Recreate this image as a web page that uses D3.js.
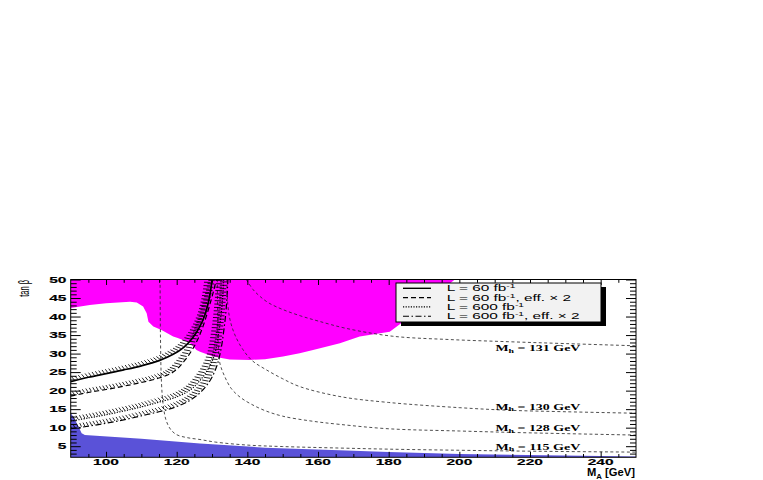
<!DOCTYPE html>
<html><head><meta charset="utf-8">
<script src="https://cdn.jsdelivr.net/npm/d3@7/dist/d3.min.js"></script>
<style>body{margin:0;background:#fff;} svg{display:block;}</style>
</head><body>
<svg id="c" width="763" height="480"></svg>
<script>
// ---------- data ----------
const xTickValues = [100, 120, 140, 160, 180, 200, 220, 240];
const yTickValues = [5, 10, 15, 20, 25, 30, 35, 40, 45, 50];
const xTitle = {main: "M", sub: "A", rest: " [GeV]"};
const yTitle = "tan β";

// excluded regions (M_A, tanβ)
const magentaRegion = [[90,50],[90,42.3],[95.4,43.1],[100,43.6],[106.8,44],[108.7,43.8],[110.5,42.7],[111.5,40.9],[112,38.6],[113.4,37.3],[115.7,36.4],[119,34.6],[120.3,34.2],[123.7,32.9],[125.6,31],[126.6,30.5],[130.3,29.2],[135,28.4],[140.7,28.3],[145,28.5],[150.1,29.2],[154.8,30.1],[158.6,31],[166.2,32.8],[171.8,34.6],[180.3,35.9],[184.1,38.6],[188,42],[195,47],[198.7,50]];
const blueRegion = [[90,2],[90,13.9],[90.7,13],[92.2,10.3],[93.1,8.5],[94,8.0],[110,7.0],[126.6,5.7],[145,4.6],[166,3.9],[180,3.4],[200,2.9],[240,2.35],[250,2.2],[250,2]];

// discovery contours
const lumi60 = [[90,22.4],[95,23.6],[100,24.6],[105,25.6],[110,26.7],[115,28.1],[119,29.8],[122,31.7],[124.5,34.2],[126.5,37.2],[128,40.5],[129,44],[129.6,47],[130,50]];
const lumi60eff = [[90,18.5],[95,19.5],[100,20.3],[105,21.2],[110,22.2],[115,23.4],[119,25],[122,27.8],[124.5,31.2],[126.5,35],[128.2,39.5],[129.6,44],[130.6,47.5],[131.2,50]];
const lumi600 = [[90,11.8],[95,12.6],[100,13.5],[105,14.5],[110,15.6],[115,16.9],[120,18.3],[124,20.3],[127,23.2],[129.3,26.5],[130.8,30],[131.8,35],[132.5,40],[133,45],[133.3,50]];
const lumi600eff = [[90,9.7],[95,10.4],[100,11.2],[105,12.1],[110,13.2],[115,14.3],[120,15.7],[124,17.5],[127,19.8],[129.5,22.8],[131.3,26.5],[132.5,31],[133.3,36],[134,42],[134.5,50]];

// M_h iso-lines
const mh131 = [[139.7,50],[141.6,47.3],[143.5,45.5],[146,43.7],[150,41.9],[155,40.2],[160,38.8],[168,36.8],[181,34.7],[197,33.8],[214,33.2],[230,32.7],[250,32.1]];
const mh130 = [[134.2,50],[134.4,44],[135.1,39.1],[136.5,35],[138.8,31],[141.5,28],[145.4,25.6],[150,23.2],[154.8,21.1],[166.2,18.4],[180,16.8],[200,15.4],[214,14.7],[230,14.3],[250,13.9]];
const mh128 = [[131.5,50],[131.6,40],[131.8,32],[132.2,27.5],[133.5,24],[135.5,20.5],[138,18.2],[141,16.4],[145,14.6],[150,13.1],[158,11.8],[166,10.9],[180,9.7],[200,9.1],[220,8.6],[250,8.0]];
const mh115 = [[115.3,50],[115.4,35],[115.7,22],[116.2,16],[117,12],[118.3,9.5],[120,8.1],[123,7.3],[126.6,6.8],[131,6.1],[140,5.3],[150,4.9],[166,4.5],[180,4.2],[200,3.9],[220,3.65],[250,3.4]];
const mhLabels = ["131", "130", "128", "115"];
const mhLabelPos = [[210.2,30.7],[210.2,14.9],[210.2,9.1],[210.2,4.1]];

const legendLabels = [
  {pre:"L = 60 fb", sup:"-1", post:""},
  {pre:"L = 60 fb", sup:"-1", post:", eff. × 2"},
  {pre:"L = 600 fb", sup:"-1", post:""},
  {pre:"L = 600 fb", sup:"-1", post:", eff. × 2"}
];

// ---------- layout ----------
const SX = 1.85; // horizontal stretch of the original picture
const svg = d3.select("#c");
const x = d3.scaleLinear().domain([90, 250]).range([70.7, 636]);
const y = d3.scaleLinear().domain([2, 50]).range([457.3, 279.5]);
const [X0, X1] = x.range(), [Y0, Y1] = [y.range()[1], y.range()[0]];

svg.append("rect").attr("width", 763).attr("height", 480).attr("fill", "#fff");
svg.append("clipPath").attr("id", "clip").append("rect")
  .attr("x", X0).attr("y", Y0).attr("width", X1 - X0).attr("height", Y1 - Y0);
const plot = svg.append("g").attr("clip-path", "url(#clip)");

const area = d3.line().x(d => x(d[0])).y(d => y(d[1]));
const smooth = d3.line().x(d => x(d[0])).y(d => y(d[1])).curve(d3.curveCatmullRom.alpha(0.5));

plot.append("path").attr("d", area(magentaRegion) + "Z").attr("fill", "#ff00ff");
plot.append("path").attr("d", area(blueRegion) + "Z").attr("fill", "#5a52d8");

// M_h dashed lines
[mh131, mh130, mh128, mh115].forEach(d => {
  plot.append("path").attr("d", smooth(d)).attr("fill", "none")
    .attr("stroke", "#222").attr("stroke-width", 0.8).attr("stroke-dasharray", "3,2.5");
});

// hatched discovery contours
const styles = [
  {data: lumi60, dash: null, w: 1.7},
  {data: lumi60eff, dash: "5,3", w: 1.2},
  {data: lumi600, dash: "1.2,1.4", w: 1.2},
  {data: lumi600eff, dash: "6,2.5,1.5,2.5", w: 1.2}
];
styles.forEach(s => {
  const p = plot.append("path").attr("d", smooth(s.data)).attr("fill", "none")
    .attr("stroke", "#000").attr("stroke-width", s.w);
  if (s.dash) p.attr("stroke-dasharray", s.dash);
  const node = p.node(), L = node.getTotalLength();
  const hg = plot.append("g").attr("stroke", "#000").attr("stroke-width", 0.85);
  for (let t = 1; t < L - 0.5; t += 3.4) {
    const a = node.getPointAtLength(Math.max(0, t - 0.6)), b = node.getPointAtLength(Math.min(L, t + 0.6));
    const c = node.getPointAtLength(t);
    let dx = (b.x - a.x) / SX, dy = b.y - a.y; const n = Math.hypot(dx, dy) || 1; dx /= n; dy /= n;
    const len = 4.2;
    hg.append("line").attr("x1", c.x + dy * 0.6 * SX).attr("y1", c.y - dx * 0.6)
      .attr("x2", c.x + dy * len * SX).attr("y2", c.y - dx * len);
  }
});

// ---------- axes ----------
function axis(gen, tx, ty) {
  const g = svg.append("g").attr("transform", `translate(${tx},${ty})`).call(gen);
  g.select(".domain").remove();
  g.selectAll("line").attr("stroke", "#000").attr("stroke-width", 1);
  return g;
}
const xMinor = d3.range(95, 250, 5).filter(v => v % 20 !== 0);
const yMinor = d3.range(3, 50, 1).filter(v => v % 5 !== 0);
axis(d3.axisBottom(x).tickValues(xTickValues).tickSizeInner(-5.5).tickSizeOuter(0).tickFormat(""), 0, Y1);
axis(d3.axisBottom(x).tickValues(xMinor).tickSizeInner(-3.3).tickSizeOuter(0).tickFormat(""), 0, Y1);
axis(d3.axisTop(x).tickValues(xTickValues).tickSizeInner(-5.5).tickSizeOuter(0).tickFormat(""), 0, Y0);
axis(d3.axisTop(x).tickValues(xMinor).tickSizeInner(-3.3).tickSizeOuter(0).tickFormat(""), 0, Y0);
axis(d3.axisLeft(y).tickValues(yTickValues).tickSizeInner(-10).tickSizeOuter(0).tickFormat(""), X0, 0);
axis(d3.axisLeft(y).tickValues(yMinor).tickSizeInner(-6).tickSizeOuter(0).tickFormat(""), X0, 0);
axis(d3.axisRight(y).tickValues(yTickValues).tickSizeInner(-10).tickSizeOuter(0).tickFormat(""), X1, 0);
axis(d3.axisRight(y).tickValues(yMinor).tickSizeInner(-6).tickSizeOuter(0).tickFormat(""), X1, 0);
svg.append("rect").attr("x", X0).attr("y", Y0).attr("width", X1 - X0).attr("height", Y1 - Y0)
  .attr("fill", "none").attr("stroke", "#000").attr("stroke-width", 1);

// stretched text helper
function stext(px, py, sx, rot) {
  const g = svg.append("g").attr("transform", `translate(${px},${py}) scale(${sx},1)` + (rot ? ` rotate(${rot})` : ""));
  return g.append("text");
}
const SANS = "'Liberation Sans', Arial, Helvetica, sans-serif";
const SERIF = "'Liberation Serif', 'Times New Roman', serif";

xTickValues.forEach(v => {
  stext(x(v), 465.2, 1.65).attr("text-anchor", "middle").attr("font-family", SANS)
    .attr("font-weight", "bold").attr("font-size", 9.4).attr("stroke", "#000").attr("stroke-width", 0.15).text(v);
});
yTickValues.forEach(v => {
  stext(66.5, y(v), 1.65).attr("text-anchor", "end").attr("dy", "0.35em").attr("font-family", SANS)
    .attr("font-weight", "bold").attr("font-size", 9.4).attr("stroke", "#000").attr("stroke-width", 0.15).text(v);
});

// x title
{
  const g = svg.append("g");
  const t = g.append("text").attr("font-family", SANS).attr("font-weight", "bold").attr("font-size", 10);
  t.append("tspan").text(xTitle.main);
  t.append("tspan").attr("font-size", 7).attr("dy", 2.3).text(xTitle.sub);
  t.append("tspan").attr("dy", -2.3).text(xTitle.rest);
  const w = t.node().getComputedTextLength();
  const sx = 48 / w;
  g.attr("transform", `translate(${635 - 48},476.3) scale(${sx},1)`);
}
// y title
stext(29, 280, SX, -90).attr("text-anchor", "end").attr("font-family", SANS)
  .attr("font-size", 7.5).text(yTitle);

// M_h labels
mhLabels.forEach((lab, i) => {
  const g = svg.append("g");
  const t = g.append("text").attr("font-family", SERIF).attr("font-weight", "bold").attr("font-size", 7.4);
  t.append("tspan").text("M");
  t.append("tspan").attr("font-size", 5.2).attr("dy", 1.8).text("h");
  t.append("tspan").attr("dy", -1.8).text(" = " + lab + " GeV");
  const w = t.node().getComputedTextLength();
  g.attr("transform", `translate(${x(mhLabelPos[i][0])},${y(mhLabelPos[i][1])}) scale(${85 / w},1)`);
});

// ---------- legend ----------
const LX = 396, LY = 283, LW = 205, LH = 39;
svg.append("rect").attr("x", LX + 5).attr("y", LY + 4).attr("width", LW).attr("height", LH).attr("fill", "#000");
svg.append("rect").attr("x", LX).attr("y", LY).attr("width", LW).attr("height", LH)
  .attr("fill", "#f2f2f2").attr("stroke", "#000").attr("stroke-width", 1);
const texts = [];
legendLabels.forEach((d, i) => {
  const cy = LY + 5.3 + i * 9.3;
  const ln = svg.append("line").attr("x1", 403).attr("x2", 431).attr("y1", cy).attr("y2", cy)
    .attr("stroke", "#000").attr("stroke-width", i === 0 ? 1.4 : 1.1);
  if (styles[i].dash) ln.attr("stroke-dasharray", styles[i].dash);
  const g = svg.append("g");
  const t = g.append("text").attr("font-family", SANS).attr("font-size", 8.3);
  t.append("tspan").text(d.pre);
  t.append("tspan").attr("font-size", 5.5).attr("dy", -3).text(d.sup);
  t.append("tspan").attr("dy", 3).text(d.post);
  texts.push({g, t, cy});
});
const maxW = d3.max(texts, o => o.t.node().getComputedTextLength());
texts.forEach(o => o.g.attr("transform", `translate(446.7,${o.cy + 3}) scale(${133 / maxW},1)`));
</script>
</body></html>
